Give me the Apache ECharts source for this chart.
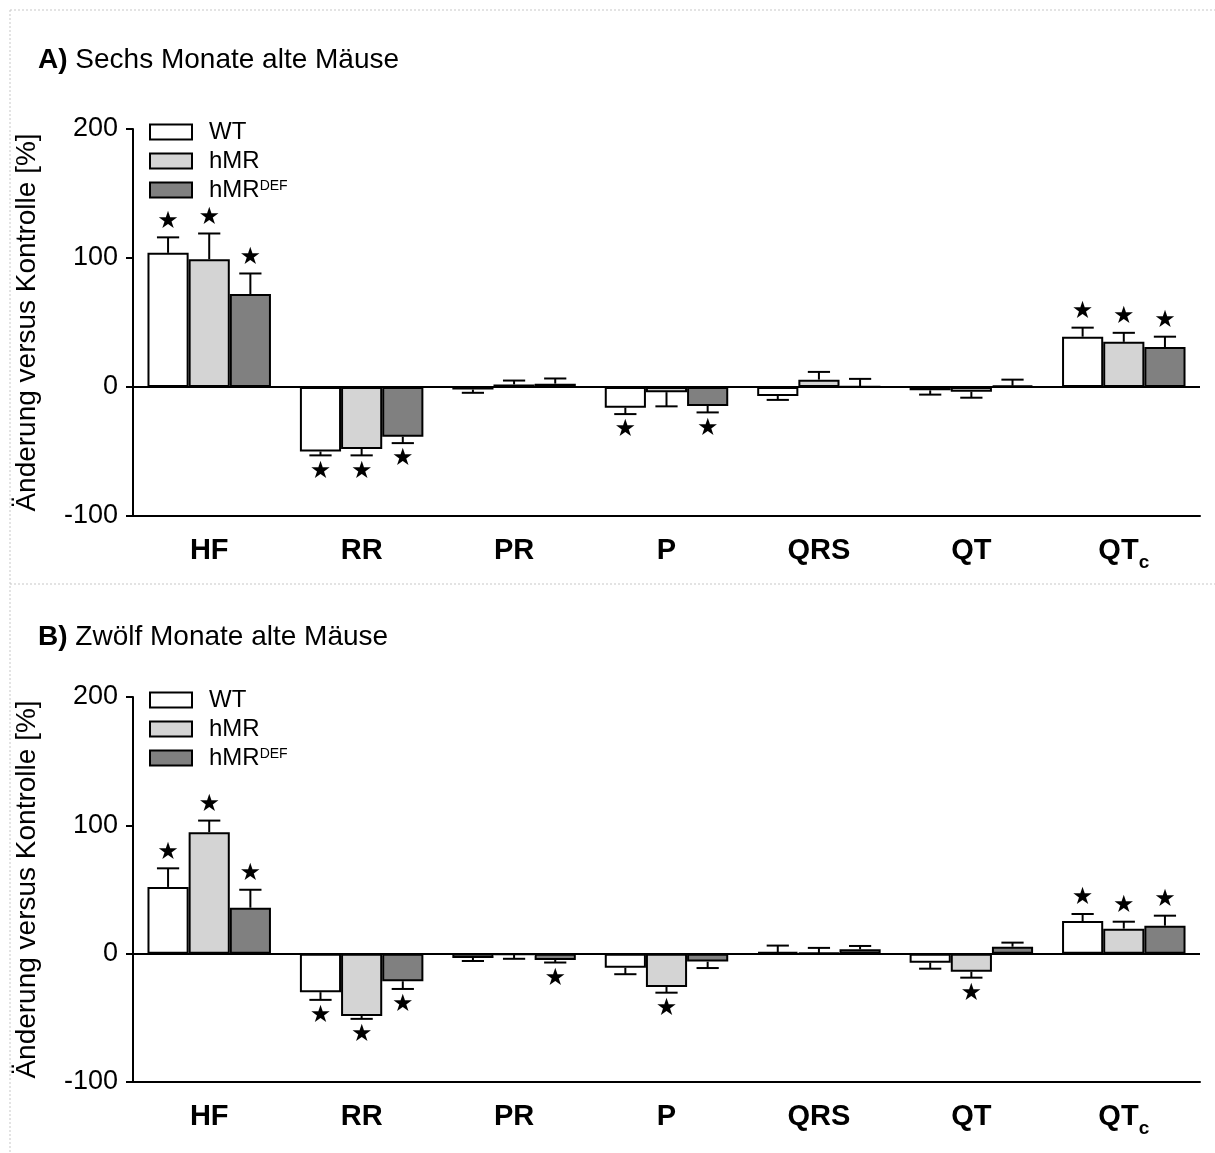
<!DOCTYPE html>
<html>
<head>
<meta charset="utf-8">
<script src="https://cdn.jsdelivr.net/npm/echarts@6/dist/echarts.min.js"></script>
<style>
  html, body { margin: 0; padding: 0; background: #fff; }
  #main { width: 1215px; height: 1153px; }
</style>
</head>
<body>
<div id="main"></div>
<script>
const categories = ['HF', 'RR', 'PR', 'P', 'QRS', 'QT', 'QTc'];
const groups = ['WT', 'hMR', 'hMRDEF'];

// A) sechs Monate
const a_wt = [104, -50, -2, -16, -7, -2.6, 39];
const a_wt_err = [12, 3, 2.5, 5, 3, 3.3, 7];
const a_wt_sig = [1, 1, 0, 1, 0, 0, 1];
const a_hmr = [99, -48, 2, -4, 5.7, -3.6, 35];
const a_hmr_err = [20, 5, 3, 11, 6, 4.7, 7];
const a_hmr_sig = [1, 1, 0, 0, 0, 0, 1];
const a_def = [72, -38.5, 2.6, -14.7, 0.3, 1, 31];
const a_def_err = [16, 5, 4, 5, 6, 4.7, 8];
const a_def_sig = [1, 1, 0, 1, 0, 0, 1];

// B) zwoelf Monate
const b_wt = [52, -30, -3.3, -11, 1.3, -7, 25.4];
const b_wt_err = [14.5, 6, 2.4, 5, 5, 4.7, 5.5];
const b_wt_sig = [1, 1, 0, 0, 0, 0, 1];
const b_hmr = [94.7, -48.5, -1, -26, 0.5, -14, 19.5];
const b_hmr_err = [9, 2.3, 3, 4.4, 4, 4.7, 5.4];
const b_hmr_sig = [1, 1, 0, 1, 0, 1, 1];
const b_def = [35.8, -21.5, -4.9, -6.2, 3.4, 5.4, 21.8];
const b_def_err = [14, 6, 2, 5, 2.6, 3.2, 7.8];
const b_def_sig = [1, 1, 1, 0, 0, 0, 1];

const yTicks = [-100, 0, 100, 200];

const colors = ['#ffffff', '#d4d4d4', '#808080'];
const FONT = 'Liberation Sans, Arial, sans-serif';
const catGap = 0.19;

const panels = [
  { title: 'A)', sub: ' Sechs Monate alte Mäuse', vals: [a_wt, a_hmr, a_def], errs: [a_wt_err, a_hmr_err, a_def_err], sigs: [a_wt_sig, a_hmr_sig, a_def_sig] },
  { title: 'B)', sub: ' Zwölf Monate alte Mäuse', vals: [b_wt, b_hmr, b_def], errs: [b_wt_err, b_hmr_err, b_def_err], sigs: [b_wt_sig, b_hmr_sig, b_def_sig] }
];
const gridTops = [129, 697];
const gridHeights = [387, 385];

function errRender(k) {
  return function (params, api) {
    const cat = api.value(0), v = api.value(1), e = api.value(2), sig = api.value(3);
    const band = api.size([1, 0])[0];
    const barW = band * (1 - catGap) / 3;
    const c = api.coord([cat, v]);
    const x = c[0] + (k - 1) * barW;
    const sgn = v >= 0 ? 1 : -1;
    const yEnd = api.coord([cat, v + sgn * e])[1];
    const cap = barW * 0.27;
    const ls = { stroke: '#000', lineWidth: 2 };
    const children = [
      { type: 'line', shape: { x1: x, y1: c[1], x2: x, y2: yEnd }, style: ls },
      { type: 'line', shape: { x1: x - cap, y1: yEnd, x2: x + cap, y2: yEnd }, style: ls }
    ];
    if (sig) {
      children.push({
        type: 'text',
        style: { text: '★', x: x, y: yEnd - sgn * 16, align: 'center', verticalAlign: 'middle', fontSize: 24, fontFamily: 'DejaVu Sans', fill: '#000' }
      });
    }
    return { type: 'group', children: children };
  };
}

const option = {
  animation: false,
  backgroundColor: '#fff',
  title: panels.map((p, i) => ({
    left: 33,
    top: i === 0 ? 41 : 618,
    text: '{b|' + p.title + '}' + p.sub,
    textStyle: {
      fontSize: 28, fontWeight: 'normal', color: '#000', fontFamily: FONT,
      rich: { b: { fontSize: 28, fontWeight: 'bold', color: '#000', fontFamily: FONT } }
    }
  })),
  legend: [0, 1].map(i => ({
    orient: 'vertical',
    left: 144,
    top: gridTops[i] - 14,
    icon: 'rect',
    itemWidth: 42,
    itemHeight: 15,
    itemGap: 5,
    data: groups,
    formatter: n => n === 'hMRDEF' ? 'hMR{sup|DEF}' : n,
    textStyle: {
      fontSize: 24, color: '#000', fontFamily: FONT, padding: [0, 0, 0, 12], lineHeight: 21,
      rich: { sup: { fontSize: 14, verticalAlign: 'top', lineHeight: 14, color: '#000', fontFamily: FONT } }
    }
  })),
  grid: [0, 1].map(i => ({ left: 133, right: 15, top: gridTops[i], height: gridHeights[i] })),
  xAxis: [0, 1].map(i => ({
    type: 'category',
    gridIndex: i,
    data: categories,
    axisLine: { onZero: false, lineStyle: { color: '#000', width: 2 } },
    axisTick: { show: false },
    axisLabel: {
      margin: 14,
      formatter: v => v === 'QTc' ? '{b|QT}{s|c}' : '{b|' + v + '}',
      rich: {
        b: { fontSize: 29, fontWeight: 'bold', color: '#000', fontFamily: FONT, lineHeight: 42 },
        s: { fontSize: 19, fontWeight: 'bold', color: '#000', fontFamily: FONT, lineHeight: 19, verticalAlign: 'bottom' }
      }
    }
  })),
  yAxis: [0, 1].map(i => ({
    type: 'value',
    gridIndex: i,
    min: yTicks[0],
    max: yTicks[yTicks.length - 1],
    interval: 100,
    name: 'Änderung versus Kontrolle [%]',
    nameLocation: 'middle',
    nameGap: 92,
    nameTextStyle: { fontSize: 28, color: '#000', fontFamily: FONT },
    axisLine: { show: true, lineStyle: { color: '#000', width: 2 } },
    axisTick: { show: true, length: 7, lineStyle: { color: '#000', width: 2 } },
    axisLabel: { fontSize: 27, color: '#000', fontFamily: FONT, margin: 15 },
    splitLine: { show: false }
  })),
  graphic: [
    { type: 'line', shape: { x1: 10, y1: 10, x2: 1215, y2: 10 }, style: { stroke: '#c8c8c8', lineWidth: 1, lineDash: [2, 2] } },
    { type: 'line', shape: { x1: 10, y1: 584, x2: 1215, y2: 584 }, style: { stroke: '#c8c8c8', lineWidth: 1, lineDash: [2, 2] } },
    { type: 'line', shape: { x1: 10, y1: 10, x2: 10, y2: 1153 }, style: { stroke: '#c8c8c8', lineWidth: 1, lineDash: [2, 2] } }
  ],
  series: []
};

panels.forEach((p, i) => {
  groups.forEach((g, k) => {
    const bar = {
      name: g,
      type: 'bar',
      xAxisIndex: i,
      yAxisIndex: i,
      data: p.vals[k],
      barGap: '0%',
      barCategoryGap: (catGap * 100) + '%',
      itemStyle: { color: colors[k], borderColor: '#000', borderWidth: 2 },
      z: 2
    };
    if (k === 0) {
      bar.markLine = {
        silent: true,
        symbol: 'none',
        label: { show: false },
        lineStyle: { type: 'solid', color: '#000', width: 2 },
        data: [{ yAxis: 0 }]
      };
    }
    option.series.push(bar);
  });
  groups.forEach((g, k) => {
    option.series.push({
      type: 'custom',
      xAxisIndex: i,
      yAxisIndex: i,
      renderItem: errRender(k),
      data: p.vals[k].map((v, j) => [j, v, p.errs[k][j], p.sigs[k][j]]),
      z: 3
    });
  });
});

const chart = echarts.init(document.getElementById('main'));
chart.setOption(option);
</script>
</body>
</html>
